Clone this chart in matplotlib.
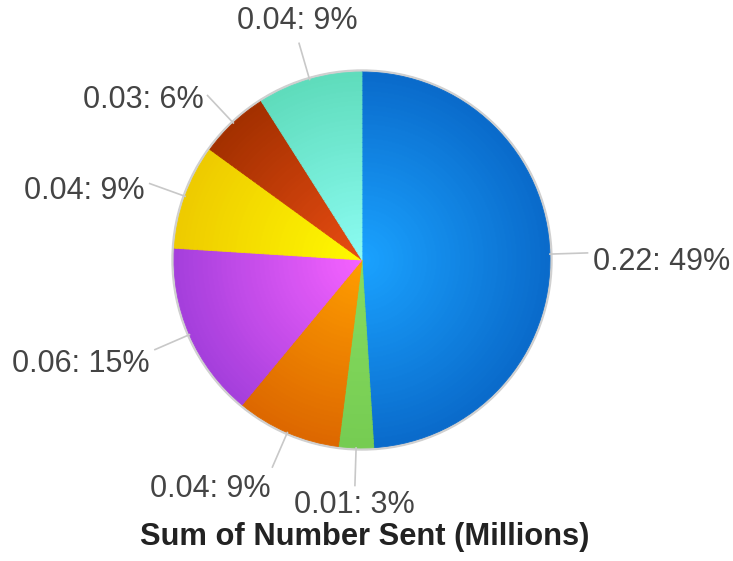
import numpy as np
import matplotlib
matplotlib.use("Agg")
import matplotlib.pyplot as plt
from matplotlib.colors import to_rgb

# ---- data ----
values = [0.22, 0.01, 0.04, 0.06, 0.04, 0.03, 0.04]
percents = [49, 3, 9, 15, 9, 6, 9]
title = "Sum of Number Sent (Millions)"

# ---- style ----
edge_colors = ["#0a6bcb", "#76cc52", "#dd6800", "#a53fdc", "#eecb00", "#a33000", "#5fdcbc"]
center_colors = ["#1aa2ff", "#86dc60", "#ff9e00", "#f562ff", "#fffa00", "#e84c12", "#8cfcf2"]

W, H = 733, 561
fig = plt.figure(figsize=(W / 100, H / 100), dpi=100)
ax = fig.add_axes([0, 0, 1, 1])

cx, cy, R = 362, H - 260, 188

# faint shadow ring
ax.add_patch(plt.Circle((cx, cy), R + 2, color="#d0d0d0", zorder=0))

n_layers = 40
for k in range(n_layers):
    t = k / (n_layers - 1)
    r = R * (1 - t * 0.98)
    cols = [tuple(np.array(to_rgb(e)) * (1 - t) + np.array(to_rgb(c)) * t)
            for e, c in zip(edge_colors, center_colors)]
    wedges, _ = ax.pie(percents, colors=cols, startangle=90, counterclock=False,
                       radius=r, center=(cx, cy), frame=True,
                       wedgeprops=dict(linewidth=0.6))
    for w, c in zip(wedges, cols):
        w.set_edgecolor(c)

ax.set_xlim(0, W)
ax.set_ylim(0, H)
ax.set_aspect("equal")
ax.axis("off")

total = sum(percents)
cum = 0
for v, p in zip(values, percents):
    mid = 90 - (cum + p / 2) / total * 360
    cum += p
    a = np.deg2rad(mid)
    ca, sa = np.cos(a), np.sin(a)
    x0, y0 = cx + R * ca, cy + R * sa
    x1, y1 = cx + 1.2 * R * ca, cy + 1.2 * R * sa
    ax.plot([x0, x1], [y0, y1], color="#c8c8c8", lw=1.2, zorder=1)
    tx, ty = cx + 1.23 * R * ca, cy + 1.23 * R * sa
    if ca > 0.3:
        ha = "left"
    elif ca < -0.3:
        ha = "right"
    else:
        ha = "center"
    if sa > 0.9:
        va = "bottom"
        ty += 2
    elif sa < -0.95:
        va = "center"
        ty -= 14
    else:
        va = "center"
        ty -= 9 + 8 * max(0.0, -sa)
    ax.text(tx, ty, f"{v:.2f}: {p}%", ha=ha, va=va, fontsize=22,
            color="#444444", family="Liberation Sans")

ax.text(365, H - 537, title, ha="center", va="center", fontsize=22.2,
        fontweight="bold", color="#222222", family="Liberation Sans")

fig.savefig("out.png", dpi=100)
